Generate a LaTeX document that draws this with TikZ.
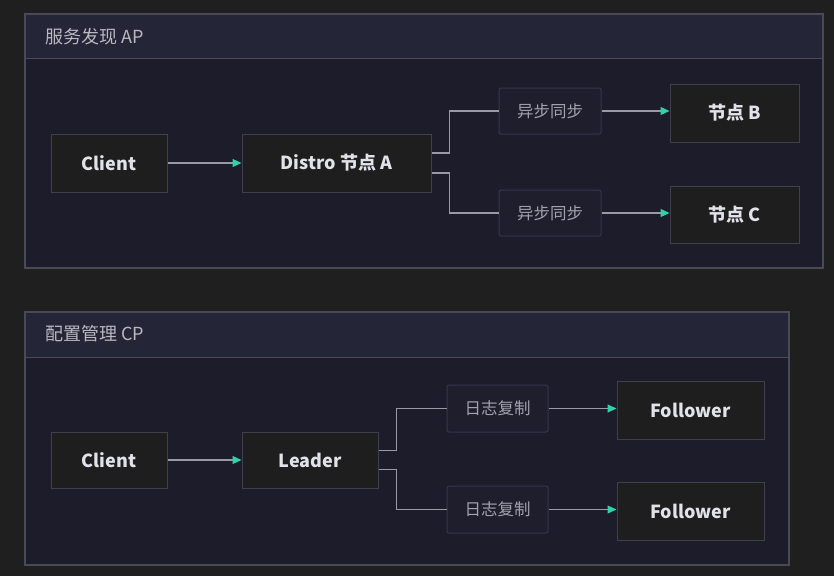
\documentclass[tikz,border=0pt]{standalone}
\usepackage{fontspec}
\setmainfont{Noto Sans CJK SC}
\usetikzlibrary{arrows.meta,positioning,calc}
\definecolor{bg}{HTML}{1F1F1F}
\definecolor{panelbody}{HTML}{1C1C2B}
\definecolor{panelhead}{HTML}{252538}
\definecolor{panelborder}{HTML}{4A4A56}
\definecolor{nodefill}{HTML}{1E1E1E}
\definecolor{nodeborder}{HTML}{40404A}
\definecolor{lblfill}{HTML}{1E1E2D}
\definecolor{lblborder}{HTML}{36364A}
\definecolor{nodetext}{HTML}{E2E2EA}
\definecolor{lbltext}{HTML}{A2A2AC}
\definecolor{headtext}{HTML}{B8B8C0}
\definecolor{linec}{HTML}{9A9AA6}
\definecolor{teal}{HTML}{2ED3A8}
\tikzset{
  box/.style={draw=nodeborder, line width=1pt, fill=nodefill, text=nodetext, font=\fontsize{18}{20}\selectfont\bfseries, inner sep=0pt, anchor=center},
  lbl/.style={draw=lblborder, line width=1pt, fill=lblfill, text=lbltext, font=\fontsize{16.5}{18}\selectfont, inner sep=0pt, rounded corners=2pt, anchor=center},
  conn/.style={draw=linec, line width=1.2pt},
  arr/.style={conn, -{Triangle[length=9pt,width=8pt,color=teal]}},
  headlbl/.style={text=headtext, font=\fontsize{18}{20}\selectfont, anchor=west, inner sep=0pt}
}
\begin{document}
\begin{tikzpicture}[x=1pt,y=-1pt]
\fill[bg] (0,0) rectangle (834,576);
\useasboundingbox (0,0) rectangle (834,576);
% panel 1
\fill[panelbody] (25,14) rectangle (823,268);
\fill[panelhead] (25,14) rectangle (823,58);
\draw[panelborder, line width=1pt] (25,58) -- (823,58);
\draw[panelborder, line width=1.2pt] (25,14) rectangle (823,268);
\node[headlbl] (h1) at (45,37) {服务发现 AP};
% panel 2
\fill[panelbody] (25,312) rectangle (789,565);
\fill[panelhead] (25,312) rectangle (789,357);
\draw[panelborder, line width=1pt] (25,357) -- (789,357);
\draw[panelborder, line width=1.2pt] (25,312) rectangle (789,565);
\node[headlbl] (h2) at (45,334) {配置管理 CP};
% AP nodes
\node[box, minimum width=116pt, minimum height=58pt] (c1) at (109,163) {Client};
\node[box, minimum width=189pt, minimum height=58pt] (da) at (336.5,163) {Distro 节点 A};
\node[lbl, minimum width=102pt, minimum height=46pt] (s1) at (550,111) {异步同步};
\node[lbl, minimum width=102pt, minimum height=46pt] (s2) at (550,213) {异步同步};
\node[box, minimum width=129pt, minimum height=58pt] (nb) at (734.5,113) {节点 B};
\node[box, minimum width=129pt, minimum height=57pt] (nc) at (734.5,214.5) {节点 C};
\draw[arr] (c1) -- (da);
\draw[conn] ([yshift=10pt]da.east) -- ++(18,0) |- (s1.west);
\draw[conn] ([yshift=-10pt]da.east) -- ++(18,0) |- (s2.west);
\draw[arr] (s1.east) -- (s1.east -| nb.west);
\draw[arr] (s2.east) -- (s2.east -| nc.west);
% CP nodes
\node[box, minimum width=116pt, minimum height=56pt] (c2) at (109,460) {Client};
\node[box, minimum width=136pt, minimum height=56pt] (ld) at (310,460) {Leader};
\node[lbl, minimum width=101pt, minimum height=47pt] (r1) at (497.5,408.5) {日志复制};
\node[lbl, minimum width=101pt, minimum height=47pt] (r2) at (497.5,509.5) {日志复制};
\node[box, minimum width=147pt, minimum height=58pt] (f1) at (690.5,410) {Follower};
\node[box, minimum width=147pt, minimum height=58pt] (f2) at (690.5,511) {Follower};
\draw[arr] (c2) -- (ld);
\draw[conn] ([yshift=9.5pt]ld.east) -- ++(18,0) |- (r1.west);
\draw[conn] ([yshift=-9.5pt]ld.east) -- ++(18,0) |- (r2.west);
\draw[arr] (r1.east) -- (r1.east -| f1.west);
\draw[arr] (r2.east) -- (r2.east -| f2.west);
\end{tikzpicture}
\end{document}
